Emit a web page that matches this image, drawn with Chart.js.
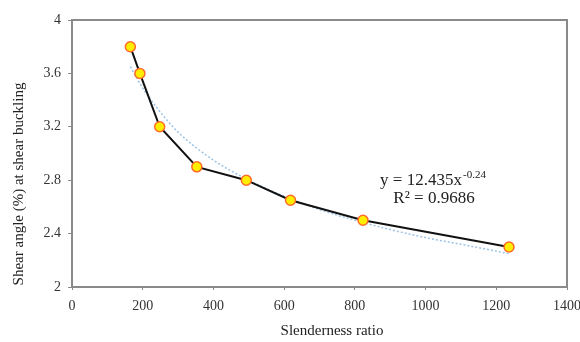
<!DOCTYPE html>
<html>
<head>
<meta charset="utf-8">
<script src="https://cdn.jsdelivr.net/npm/chart.js@4"></script>
<style>
html,body{margin:0;padding:0;background:#fff;}
#wrap{width:580px;height:342px;position:relative;}
</style>
</head>
<body>
<div id="wrap"><canvas id="c" width="580" height="342"></canvas></div>
<script>
const slenderness = [165, 192, 248, 353, 493, 618, 823, 1236];
const shearAngle = [3.80, 3.60, 3.20, 2.90, 2.80, 2.65, 2.50, 2.30];
const trendX = [165, 200, 250, 300, 400, 500, 600, 700, 800, 900, 1000, 1100, 1236];
const trendY = [3.65, 3.49, 3.31, 3.16, 2.95, 2.80, 2.68, 2.58, 2.50, 2.43, 2.37, 2.32, 2.25];
const xTicks = [0, 200, 400, 600, 800, 1000, 1200, 1400];
const yTicks = [2, 2.4, 2.8, 3.2, 3.6, 4];
const xTitle = 'Slenderness ratio';
const yTitle = 'Shear angle (%) at shear buckling';
const eqMain = 'y = 12.435x';
const eqExp = '-0.24';
const eqR2 = 'R² = 0.9686';

const serif = '"Liberation Serif", "DejaVu Serif", serif';
const axisGray = '#8a8a8a';

const framePlugin = {
  id: 'frame',
  afterDraw(chart) {
    const {ctx, chartArea: a} = chart;
    ctx.save();
    ctx.strokeStyle = axisGray;
    ctx.lineWidth = 2;
    ctx.beginPath();
    ctx.moveTo(a.left, a.top);
    ctx.lineTo(a.right, a.top);
    ctx.lineTo(a.right, a.bottom);
    ctx.stroke();
    ctx.fillStyle = '#222';
    ctx.textAlign = 'center';
    ctx.textBaseline = 'middle';
    ctx.font = '15px ' + serif;
    ctx.fillText(xTitle, 332, 331);
    ctx.save();
    ctx.translate(19, 184);
    ctx.rotate(-Math.PI / 2);
    ctx.fillText(yTitle, 0, 0);
    ctx.restore();
    ctx.font = '17px ' + serif;
    const w1 = ctx.measureText(eqMain).width;
    ctx.font = '11px ' + serif;
    const w2 = ctx.measureText(eqExp).width;
    const total = w1 + w2 + 1;
    const sx = 433 - total / 2;
    ctx.textAlign = 'left';
    ctx.font = '17px ' + serif;
    ctx.fillText(eqMain, sx, 181);
    ctx.font = '11px ' + serif;
    ctx.fillText(eqExp, sx + w1 + 1, 175);
    ctx.textAlign = 'center';
    ctx.font = '17px ' + serif;
    ctx.fillText(eqR2, 434, 199);
    ctx.restore();
  }
};

new Chart(document.getElementById('c'), {
  type: 'scatter',
  data: {
    datasets: [
      {
        label: 'trend',
        data: trendX.map((x, i) => ({x, y: trendY[i]})),
        showLine: true,
        borderColor: '#9cc3e6',
        borderWidth: 1.5,
        borderDash: [2, 2],
        pointRadius: 0,
        cubicInterpolationMode: 'monotone',
        order: 2
      },
      {
        label: 'data',
        data: slenderness.map((x, i) => ({x, y: shearAngle[i]})),
        showLine: true,
        borderColor: '#111',
        borderWidth: 2,
        pointRadius: 5,
        pointBackgroundColor: '#ffee00',
        pointBorderColor: '#ff6a2a',
        pointBorderWidth: 1.5,
        order: 1
      }
    ]
  },
  options: {
    responsive: false,
    animation: false,
    layout: {padding: {left: 0, top: 20, right: 13, bottom: 0}},
    plugins: {legend: {display: false}, tooltip: {enabled: false}},
    scales: {
      x: {
        type: 'linear', min: 0, max: 1400,
        afterBuildTicks: s => { s.ticks = xTicks.map(v => ({value: v})); },
        afterFit: s => { s.height = 55; s.paddingLeft = 0; s.paddingRight = 0; },
        border: {color: axisGray, width: 2},
        grid: {drawOnChartArea: false, color: axisGray, tickLength: 3, lineWidth: 1},
        ticks: {color: '#333', font: {family: serif, size: 14}, padding: 8, callback: v => String(v)}
      },
      y: {
        type: 'linear', min: 2, max: 4,
        afterBuildTicks: s => { s.ticks = yTicks.map(v => ({value: v})); },
        afterFit: s => { s.width = 72; s.paddingTop = 0; s.paddingBottom = 0; },
        border: {color: axisGray, width: 2},
        grid: {drawOnChartArea: false, color: axisGray, tickLength: 4, lineWidth: 1},
        ticks: {color: '#333', font: {family: serif, size: 14}, padding: 7, callback: v => String(v)}
      }
    }
  },
  plugins: [framePlugin]
});
</script>
</body>
</html>
